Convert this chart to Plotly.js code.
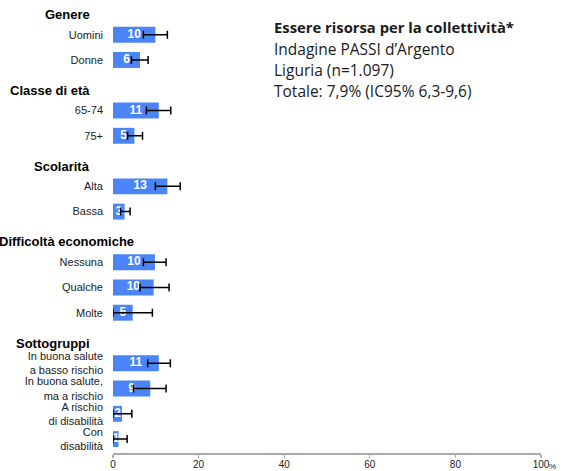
<!DOCTYPE html>
<html>
<head>
<meta charset="utf-8">
<script src="https://cdn.plot.ly/plotly-3.0.1.min.js"></script>
<style>html,body{margin:0;padding:0;background:#fff;}#chart{width:565px;height:471px;}</style>
</head>
<body>
<div id="chart"></div>
<script>
// ---- data ----
const groupNames = ['Genere', 'Classe di età', 'Scolarità', 'Difficoltà economiche', 'Sottogruppi'];
const groups = ['Genere', 'Genere', 'Classe di età', 'Classe di età', 'Scolarità', 'Scolarità',
  'Difficoltà economiche', 'Difficoltà economiche', 'Difficoltà economiche',
  'Sottogruppi', 'Sottogruppi', 'Sottogruppi', 'Sottogruppi'];
const categories = ['Uomini', 'Donne', '65-74', '75+', 'Alta', 'Bassa', 'Nessuna', 'Qualche', 'Molte',
  'In buona salute<br>a basso rischio', 'In buona salute,<br>ma a rischio',
  'A rischio<br>di disabilità', 'Con<br>disabilità'];
const values = [9.9, 6.3, 10.7, 5.0, 12.7, 2.7, 9.8, 9.5, 4.6, 10.7, 8.7, 2.1, 1.3];
const valueLabels = ['10', '6', '11', '5', '13', '3', '10', '10', '5', '11', '9', '2', '1'];
const lower = [7.1, 4.3, 7.8, 3.4, 9.9, 1.8, 7.1, 6.3, 0.0, 8.1, 4.8, 0.0, 0.0];
const upper = [12.7, 8.2, 13.5, 6.9, 15.7, 4.0, 12.4, 13.1, 9.2, 13.4, 12.4, 4.4, 3.3];
const xTicks = [0, 20, 40, 60, 80, 100];
const titleLines = ['Essere risorsa per la collettività*', 'Indagine PASSI d\u2019Argento',
  'Liguria (n=1.097)', 'Totale: 7,9% (IC95% 6,3-9,6)'];

// ---- layout of rows (each group: header slot + one slot per item) ----
const pos = [];
const headerPos = {};
let slot = 0;
groupNames.forEach(g => {
  headerPos[g] = slot; slot++;
  groups.forEach((gg, i) => { if (gg === g) { pos[i] = slot; slot++; } });
});
const lastSlot = slot - 1;

const FONT = 'Liberation Sans, Arial, sans-serif';
const TFONT = 'Open Sans, Liberation Sans, sans-serif';
const BLUE = '#4a84f6';

const plotLeft = 113, plotRight = 541, plotTop = 4, plotBottom = 453;
const W = 565, H = 471;
const pw = plotRight - plotLeft, ph = plotBottom - plotTop;
const px2paperX = p => (p - plotLeft) / pw;
const px2paperY = p => (plotBottom - p) / ph;

const barTrace = {
  type: 'bar', orientation: 'h', x: values, y: pos,
  marker: {color: BLUE, line: {width: 0}}, hoverinfo: 'skip', showlegend: false
};
const textTrace = {
  type: 'scatter', mode: 'text', x: values.map(v => v / 2), y: pos, text: valueLabels,
  textposition: 'middle center', textfont: {family: FONT, size: 12, color: '#ffffff', weight: 'bold'},
  hoverinfo: 'skip', showlegend: false, cliponaxis: false
};
const errTrace = {
  type: 'scatter', mode: 'markers', x: values, y: pos,
  marker: {size: 1, color: 'rgba(0,0,0,0)'},
  error_x: {type: 'data', symmetric: false,
    array: upper.map((u, i) => u - values[i]),
    arrayminus: lower.map((l, i) => values[i] - l),
    color: '#000000', thickness: 1.5, width: 4},
  hoverinfo: 'skip', showlegend: false, cliponaxis: false
};

// measure header widths to keep them on screen
const cv = document.createElement('canvas').getContext('2d');
cv.font = 'bold 13px "Liberation Sans", Arial, sans-serif';

const annotations = [];
groupNames.forEach(g => {
  const w = cv.measureText(g).width;
  const right = Math.max(92, w + 1);
  annotations.push({
    text: '<b>' + g + '</b>', xref: 'paper', x: px2paperX(right), xanchor: 'right',
    yref: 'y', y: headerPos[g] + 0.2, yanchor: 'middle', showarrow: false,
    font: {family: FONT, size: 13, color: '#000'}
  });
});
const titleY = [27, 49, 70, 91];
titleLines.forEach((t, i) => {
  annotations.push({
    text: i === 0 ? '<b>' + t + '</b>' : t, xref: 'paper', x: px2paperX(272), xanchor: 'left',
    yref: 'paper', y: px2paperY(titleY[i]), yanchor: 'middle', showarrow: false,
    font: {family: TFONT, size: i === 0 ? 14.8 : 15.5, color: '#1a1a1a'}
  });
});
annotations.push({
  text: '%', xref: 'paper', x: px2paperX(547), xanchor: 'left', yref: 'paper', y: px2paperY(467),
  yanchor: 'middle', showarrow: false, font: {family: FONT, size: 8, color: '#222'}
});

const layout = {
  width: W, height: H,
  margin: {l: plotLeft, r: W - plotRight, t: plotTop, b: H - plotBottom, pad: 0},
  paper_bgcolor: '#fff', plot_bgcolor: '#fff',
  bargap: 0.37,
  showlegend: false,
  xaxis: {
    range: [0, 100], tickvals: xTicks, ticktext: xTicks.map(String),
    showgrid: false, zeroline: false, showline: true, linecolor: '#aaaaaa', linewidth: 1.5,
    ticks: 'outside', ticklen: 3, tickcolor: '#aaaaaa', tickwidth: 1.2,
    ticklabelstandoff: -2,
    tickfont: {family: FONT, size: 10, color: '#222'}, fixedrange: true
  },
  yaxis: {
    range: [lastSlot + 0.55, -0.214], tickvals: pos, ticktext: categories,
    showgrid: false, zeroline: false, showline: false, ticks: '',
    ticklabelstandoff: 9,
    tickfont: {family: FONT, size: 11, color: '#222'}, fixedrange: true
  },
  annotations: annotations,
  font: {family: FONT}
};

Plotly.newPlot('chart', [barTrace, textTrace, errTrace], layout, {displayModeBar: false, staticPlot: true});
</script>
</body>
</html>
